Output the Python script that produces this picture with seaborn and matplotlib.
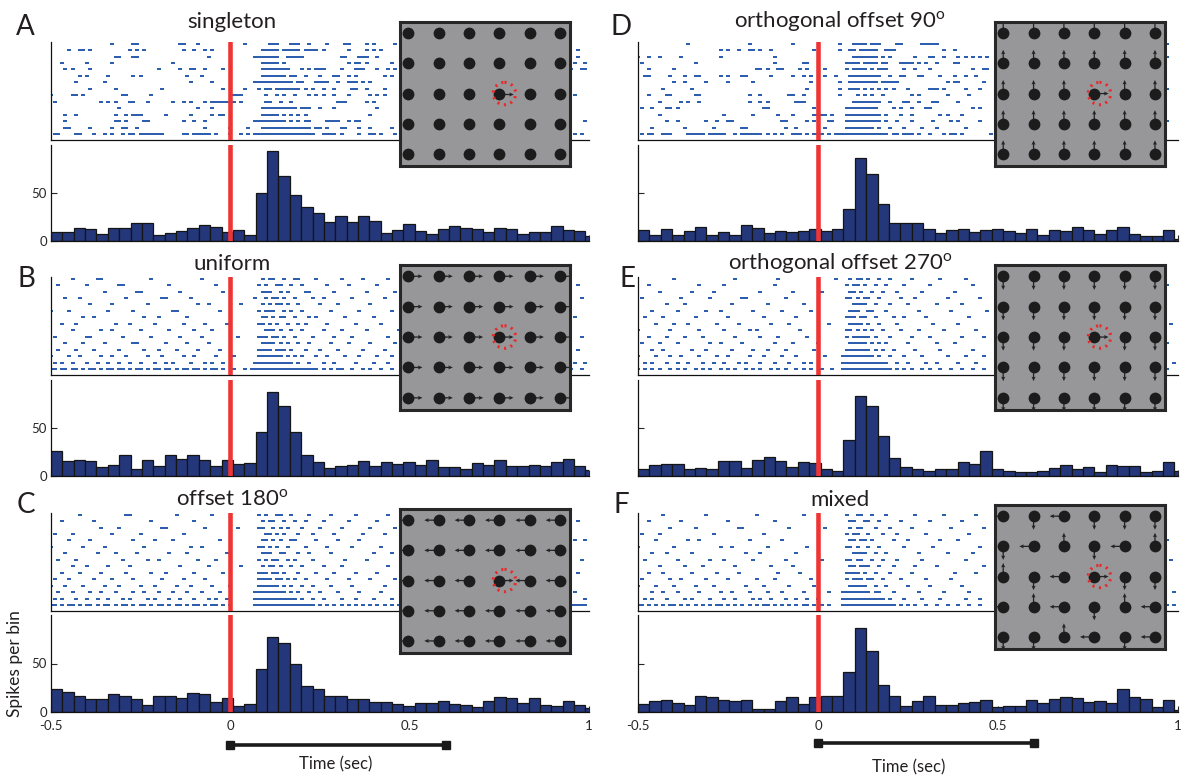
import numpy as np
import pandas as pd
import seaborn as sns
import matplotlib.pyplot as plt
import matplotlib.transforms as mtrans
from matplotlib.patches import Circle

# ---------------- data ----------------
# PSTH bin width (sec), bins start at -0.5
bin_width = 0.0317

hist_A = [9.5, 9.5, 14, 12, 7.5, 14, 13.5, 19, 19, 6.5, 8.5, 10.5, 14, 17, 15, 9.5, 11.5, 6.5, 50, 94,
          68, 48, 35, 29, 20, 26, 20, 26, 21, 8.5, 11.5, 18, 10.5, 7.5, 12, 16, 14, 13, 9.5, 14,
          12, 7.5, 9.5, 9.5, 16, 11.5, 10.5, 5]
hist_B = [26, 15.5, 16.5, 15.5, 9.5, 11.5, 21.5, 7.5, 16.5, 10.5, 21.5, 17.5, 21.5, 16.5, 10.5, 16.5, 12.5, 13.5, 46, 87,
          73, 46, 21.5, 14.5, 8.5, 10.5, 11.5, 15.5, 10.5, 14.5, 12.5, 14.5, 11.5, 16.5, 9.5, 9.5, 7.5, 13.5, 11.5, 16.5,
          10.5, 10.5, 11.5, 10.5, 14.5, 17.5, 10.5, 6]
hist_C = [24, 21, 16, 13, 13, 19, 17, 13, 7, 17, 17, 14, 20, 19, 10, 14, 6, 8, 44, 77.5,
          71, 50, 27, 24, 17, 17, 13, 13, 10, 10, 8, 6, 9, 9, 11.5, 8, 7, 5, 11.5, 15,
          14, 9, 14, 7.5, 6, 11.5, 7.5, 4]
hist_D = [11.3, 6.2, 12.3, 6.2, 10.6, 14.4, 6.2, 9.2, 6.2, 17.1, 13.4, 8.2, 10.6, 9.2, 10.6, 12.3, 10.6, 12.3, 33.6, 86,
          69.5, 38.7, 18.5, 18.5, 18.5, 13, 8.2, 11.3, 12.3, 9.2, 11.3, 12.3, 10.6, 8.2, 13, 6.2, 11.3, 10.3, 14.4, 11.3,
          7.2, 11.3, 14.4, 7.2, 5.1, 5.1, 11.3, 2.4]
hist_E = [7.8, 11.1, 12.2, 12.2, 6.8, 8.8, 6.8, 15.9, 15.9, 8.8, 16.9, 20.3, 15.9, 9.8, 14.9, 13.9, 7.8, 4.7, 37.2, 83,
          73, 41.2, 18.9, 9.8, 6.8, 5.7, 6.8, 7.8, 14.9, 12.8, 25.7, 6.8, 5.7, 3.7, 3.7, 5.7, 8.8, 11.8, 6.8, 9.8,
          3.7, 11.8, 10.8, 10.8, 3.7, 4.7, 14.9, 4.7]
hist_F = [8, 11, 12, 9, 7, 17, 15, 12, 11, 12, 3, 3, 11, 15, 8, 15, 16, 16, 41, 87,
          63, 28, 17, 6, 11, 16, 7, 7, 9, 10, 12, 5, 6, 6, 12, 9, 13, 15, 14, 10,
          11, 9, 24, 15, 13, 5, 12, 2]

# raster spike times in units of 10 ms, one list per trial (top trial first)
spikes_A = [
    [-33, -27, -26, -14, -13, -9, 4, 11, 12, 13, 17, 18, 19, 22, 27, 32, 33, 38, 40, 46],
    [-45, -42, -41, -39, -28, -26, -24, -13, -10, -7, -5, 9, 10, 11, 12, 13, 15, 16, 17, 18, 19, 21, 22, 23, 24, 26, 33, 38, 40, 42, 97],
    [-32, -31, -27, -26, -6, 7, 8, 9, 10, 11, 12, 13, 16, 17, 18, 19, 20, 31, 32, 36, 37, 38, 41, 97],
    [-47, -40, -33, -16, 9, 10, 11, 12, 13, 15, 33, 35, 36, 38, 45, 96, 99],
    [-46, -44, -39, -20, -14, -11, -10, -7, -2, 9, 10, 11, 12, 13, 14, 15, 16, 20, 22, 24, 25, 26, 31, 35, 36, 37, 41, 44, 46, 95, 98, 99],
    [-42, -40, -34, -27, -25, -12, -8, 9, 10, 11, 12, 13, 14, 15, 17, 18, 21, 25, 29, 30, 33, 35, 43, 45],
    [-43, -35, -11, -5, 7, 8, 9, 10, 11, 12, 13, 14, 15, 16, 17, 19, 20, 24, 25, 26, 27, 30, 33, 34, 35, 37, 39],
    [-39, -32, -19, -2, 4, 8, 10, 11, 13, 14, 15, 16, 17, 18, 19, 21, 23, 26, 29, 34, 35, 38, 43],
    [-50, -44, -43, -41, -30, -29, -22, 1, 2, 3, 10, 13, 15, 18, 22, 24, 26, 29, 33, 39, 41, 43, 96],
    [-49, -36, -34, -32, -28, -27, -23, -16, -13, -11, -7, -5, -4, -3, -2, -1, 1, 3, 10, 11, 14, 17, 30, 31, 32, 38, 40],
    [-31, -9, -5, 9, 10, 11, 12, 13, 14, 15, 16, 17, 18, 20, 21, 22, 25, 29, 41],
    [-46, -43, -32, -29, -27, -26, -25, -18, -11, -5, -3, -2, 9, 10, 11, 12, 13, 15, 17, 19, 21, 39],
    [-46, -32, -31, -29, -24, -23, -13, -10, -7, 7, 8, 9, 10, 11, 12, 13, 14, 15, 17, 19, 21, 22, 27, 28, 29, 30, 33, 35, 36, 99],
    [-46, -45, -39, -33, -30, -29, -26, -7, 0, 5, 9, 10, 11, 12, 13, 14, 15, 16, 17, 18, 19, 20, 21, 22, 24, 25, 27, 31, 32, 36, 39, 45],
    [-49, -48, -43, -42, -38, -35, -33, -30, -28, -27, -25, -24, -23, -22, -21, -20, -19, -13, -12, -10, -9, -8, -7, -6, -4, 0, 3, 5,
     7, 8, 9, 10, 11, 12, 13, 14, 15, 16, 17, 18, 19, 20, 21, 22, 23, 26, 27, 28, 29, 31, 36, 39, 40, 42, 46, 96, 98],
]
spikes_B = [
    [-44, -37, -36, -22, -8, 9, 11, 12, 15, 18, 19, 24, 31, 37, 44],
    [-48, -40, -31, -30, -17, -4, 8, 10, 13, 14, 17, 20, 27, 33, 41, 97],
    [-35, -26, -25, -14, -2, 9, 10, 11, 14, 16, 21, 22, 29, 38, 46],
    [-46, -42, -29, -19, -18, -11, 7, 10, 12, 13, 15, 18, 23, 26, 34, 43, 98],
    [-39, -33, -23, -9, -6, 3, 9, 11, 13, 14, 16, 19, 25, 30, 39],
    [-50, -45, -34, -27, -16, -15, -3, 8, 10, 11, 12, 15, 17, 20, 28, 36, 45],
    [-41, -38, -24, -20, -12, 9, 10, 12, 14, 15, 18, 22, 24, 32, 40, 96],
    [-47, -43, -32, -28, -21, -13, -7, -1, 8, 9, 11, 13, 16, 19, 21, 27, 35, 42],
    [-44, -36, -33, -25, -17, -10, -5, 10, 11, 12, 14, 17, 20, 26, 31, 38, 47],
    [-49, -40, -39, -30, -22, -14, -8, 2, 8, 9, 10, 12, 13, 15, 18, 23, 29, 34, 44, 98],
    [-46, -41, -35, -27, -26, -18, -12, -6, 9, 10, 11, 12, 14, 16, 19, 22, 28, 33, 39, 46],
    [-48, -43, -38, -31, -24, -20, -15, -9, -3, 8, 9, 10, 11, 13, 14, 15, 17, 21, 25, 30, 37, 43, 97],
    [-50, -45, -42, -36, -33, -29, -23, -19, -13, -10, -4, 1, 8, 9, 10, 11, 12, 13, 14, 16, 18, 20, 24, 27, 32, 36, 41, 45],
    [-49, -47, -44, -40, -37, -34, -31, -28, -25, -21, -18, -16, -11, -7, -5, -2, 7, 8, 9, 10, 11, 12, 13, 14, 15, 16, 17, 19,
     22, 26, 29, 35, 40, 44, 96, 99],
    [-50, -49, -47, -46, -44, -43, -41, -39, -38, -36, -34, -33, -31, -30, -28, -26, -25, -23, -21, -20, -18, -17, -15, -13,
     -12, -10, -9, -7, -5, -4, -2, 1, 4, 6, 7, 8, 9, 10, 11, 12, 13, 14, 15, 16, 17, 18, 19, 20, 21, 22, 23, 24, 26, 28, 30,
     31, 34, 37, 39, 42, 45, 95, 98],
]
spikes_C = [
    [-42, -29, -28, -15, -5, 8, 10, 13, 14, 17, 22, 28, 35, 44],
    [-47, -38, -22, -10, 9, 11, 12, 15, 18, 21, 26, 33, 41, 97],
    [-36, -31, -19, -18, -7, 2, 8, 9, 12, 14, 16, 20, 25, 31, 39, 46],
    [-49, -44, -33, -25, -13, 10, 11, 13, 15, 19, 23, 29, 37, 43],
    [-45, -39, -27, -21, -16, -3, 9, 10, 12, 14, 17, 18, 24, 30, 36, 96, 99],
    [-50, -41, -35, -24, -11, -8, 8, 9, 11, 13, 16, 21, 27, 34, 42],
    [-46, -37, -32, -26, -17, -12, -1, 9, 10, 11, 14, 15, 19, 22, 28, 40, 45],
    [-48, -43, -30, -23, -20, -9, -4, 8, 10, 12, 13, 16, 18, 23, 32, 38, 98],
    [-44, -40, -34, -28, -14, -6, 3, 9, 11, 12, 14, 17, 20, 26, 31, 44],
    [-47, -42, -36, -29, -22, -18, -10, -2, 8, 9, 10, 12, 13, 15, 19, 24, 29, 35, 41, 97],
    [-49, -45, -38, -33, -27, -19, -13, -7, 8, 9, 10, 11, 13, 14, 16, 18, 21, 27, 33, 39, 46],
    [-50, -46, -41, -35, -31, -25, -21, -15, -11, -5, 0, 8, 9, 10, 11, 12, 13, 15, 17, 20, 23, 28, 34, 43],
    [-48, -44, -39, -36, -32, -27, -24, -20, -16, -12, -8, -3, 7, 8, 9, 10, 11, 12, 13, 14, 15, 17, 19, 22, 25, 30, 36, 42, 96],
    [-49, -47, -43, -40, -37, -34, -30, -28, -23, -21, -17, -14, -10, -6, -4, -1, 7, 8, 9, 10, 11, 12, 13, 14, 15, 16, 17, 18,
     20, 23, 26, 31, 35, 40, 45, 99],
    [-50, -49, -47, -45, -44, -42, -40, -39, -37, -35, -34, -32, -30, -29, -27, -25, -24, -22, -20, -19, -17, -15, -14, -12,
     -10, -9, -7, -5, -4, -2, 0, 7, 8, 9, 10, 11, 12, 13, 14, 15, 16, 17, 18, 19, 20, 21, 22, 23, 25, 27, 29, 31, 33, 35,
     37, 39, 41, 43, 45, 47, 95, 96, 97, 98, 99],
]
spikes_D = [
    [-36, -19, -7, 6, 10, 11, 12, 13, 15, 16, 17, 22, 23, 29, 30, 31, 32, 33, 97],
    [-27, -25, -22, -19, -18, -16, -13, -1, 6, 9, 10, 12, 13, 14, 15, 16, 19, 20, 21, 35, 38],
    [-50, -47, -44, -38, -27, -12, 10, 11, 12, 13, 14, 15, 16, 18, 20, 27, 31, 32, 35, 39, 41, 43, 45, 47, 97],
    [-49, -34, -12, -4, -3, 8, 9, 10, 11, 13, 14, 15, 16, 18, 19, 23, 24, 25, 26, 28, 30, 33, 38, 39],
    [-47, -40, -17, -16, -14, -11, -10, -5, -3, 2, 8, 10, 11, 12, 13, 15, 17, 18, 19, 24, 27, 31, 43, 46, 47],
    [-48, -47, -41, -37, -34, -33, -27, -25, -21, -20, -13, -7, -4, -2, 2, 5, 9, 10, 11, 12, 13, 14, 15, 16, 17, 20, 23, 24,
     28, 29, 34, 38, 41, 44],
    [-40, -37, -31, -25, -18, -2, 6, 9, 10, 11, 12, 13, 14, 15, 16, 18, 19, 20, 21, 22, 36, 38, 39, 46],
    [-43, -35, -3, 6, 9, 10, 11, 13, 15, 17, 19, 21, 25, 31, 32, 33, 35, 41, 45, 97],
    [-47, -42, -41, -34, -33, -19, -16, -8, -7, -4, 6, 11, 13, 15, 18, 26, 28, 36, 42],
    [-44, -38, -36, -33, -19, -16, -14, -6, -5, -4, 10, 11, 12, 13, 14, 15, 16, 17, 20, 24, 25, 28, 32, 33, 39],
    [-49, -46, -42, -41, -39, -15, -14, -1, 8, 9, 10, 11, 12, 13, 14, 15, 16, 21, 23, 26, 30, 31, 43, 45],
    [-44, -26, -18, -11, -7, -1, 0, 1, 2, 4, 8, 9, 10, 11, 12, 13, 14, 15, 16, 17, 19, 23, 26, 34, 36, 40],
    [-42, -39, -31, -28, -25, -24, -10, -9, -3, -1, 3, 4, 8, 9, 10, 11, 12, 13, 14, 15, 16, 17, 19, 22, 26, 32, 37, 39, 45, 97],
    [-46, -37, -29, -21, -20, -9, -6, 2, 8, 9, 10, 11, 12, 13, 14, 15, 17, 20, 24, 29, 33, 41],
    [-49, -47, -46, -43, -42, -41, -36, -35, -34, -33, -32, -30, -29, -28, -27, -26, -23, -21, -20, -19, -18, -17, -16, -14,
     -12, -10, -7, -6, -5, -3, -1, 0, 1, 3, 5, 6, 7, 8, 9, 10, 11, 12, 13, 14, 15, 16, 17, 18, 19, 21, 22, 24, 25, 26, 28,
     31, 35, 37, 38, 40, 48],
]
spikes_E = [
    [-40, -23, -11, 5, 9, 11, 12, 14, 17, 20, 26, 34, 41],
    [-47, -33, -26, -12, 8, 10, 11, 13, 16, 19, 24, 31, 43, 97],
    [-44, -35, -29, -16, -7, 1, 9, 10, 12, 15, 18, 22, 29, 38],
    [-49, -38, -30, -21, -20, -9, 8, 9, 11, 13, 14, 17, 23, 27, 36, 45],
    [-42, -37, -24, -14, -4, 10, 11, 12, 13, 16, 20, 25, 33, 40, 96],
    [-46, -39, -31, -27, -18, -10, -2, 9, 10, 11, 14, 15, 19, 28, 37, 47],
    [-48, -43, -34, -25, -15, -6, 8, 9, 10, 12, 13, 16, 21, 24, 30, 42],
    [-45, -40, -36, -28, -22, -13, -8, 3, 9, 10, 11, 12, 14, 17, 22, 32, 39, 98],
    [-50, -41, -33, -26, -19, -17, -5, 8, 9, 11, 13, 15, 18, 23, 28, 35, 44],
    [-47, -42, -37, -32, -23, -16, -11, -3, 8, 10, 11, 12, 13, 14, 16, 20, 26, 31, 40, 46],
    [-49, -44, -39, -30, -27, -21, -12, -7, 0, 9, 10, 11, 12, 13, 15, 17, 19, 25, 33, 38, 97],
    [-46, -43, -35, -31, -24, -18, -14, -9, -1, 8, 9, 10, 11, 12, 13, 14, 16, 18, 21, 27, 34, 43],
    [-50, -45, -41, -38, -33, -28, -25, -19, -15, -10, -6, 2, 7, 8, 9, 10, 11, 12, 13, 14, 15, 17, 20, 24, 29, 36, 41, 46],
    [-48, -46, -42, -39, -36, -32, -29, -26, -22, -20, -16, -12, -8, -4, -2, 7, 8, 9, 10, 11, 12, 13, 14, 15, 16, 17, 18, 19,
     22, 25, 30, 33, 39, 44, 95, 99],
    [-50, -48, -46, -44, -41, -39, -37, -34, -32, -30, -27, -25, -23, -20, -18, -16, -13, -11, -9, -6, -4, -2, 1, 4, 7, 8,
     9, 10, 11, 12, 13, 14, 15, 16, 17, 18, 19, 20, 22, 24, 26, 29, 31, 34, 37, 40, 43, 46, 95, 97],
]
spikes_F = [
    [-43, -31, -17, -4, 8, 11, 12, 15, 19, 27, 35, 44],
    [-47, -38, -25, -12, 9, 10, 13, 14, 17, 23, 31, 40, 96],
    [-41, -34, -22, -21, -8, 2, 9, 11, 12, 16, 20, 26, 37, 46],
    [-49, -44, -29, -15, 8, 10, 11, 14, 18, 22, 30, 42],
    [-45, -36, -33, -19, -10, 9, 10, 12, 13, 15, 21, 25, 34, 39, 97],
    [-50, -40, -27, -24, -14, -3, 8, 9, 11, 14, 17, 24, 32, 45],
    [-46, -42, -35, -20, -16, -6, 10, 11, 12, 13, 16, 19, 28, 36, 43],
    [-48, -39, -30, -26, -18, -9, 1, 8, 9, 11, 12, 15, 18, 22, 29, 41, 98],
    [-44, -37, -32, -23, -13, -7, 9, 10, 12, 13, 14, 17, 21, 27, 33, 46],
    [-47, -43, -35, -28, -22, -11, -5, 8, 9, 10, 11, 13, 16, 20, 26, 38, 44],
    [-49, -41, -38, -31, -25, -17, -12, -2, 8, 10, 11, 12, 14, 15, 18, 23, 30, 37, 96],
    [-50, -45, -40, -34, -29, -20, -15, -8, -1, 9, 10, 11, 12, 13, 16, 19, 25, 31, 40],
    [-46, -43, -39, -33, -27, -24, -19, -14, -10, -4, 3, 7, 8, 9, 10, 11, 12, 13, 14, 16, 17, 21, 28, 35, 42, 99],
    [-48, -46, -42, -37, -35, -30, -26, -23, -18, -16, -13, -9, -6, -3, 0, 7, 8, 9, 10, 11, 12, 13, 14, 15, 16, 17, 18, 20,
     24, 29, 34, 41, 45],
    [-50, -49, -47, -45, -43, -41, -40, -38, -36, -34, -32, -30, -28, -27, -25, -23, -21, -19, -17, -15, -14, -12, -10, -8,
     -6, -4, -3, -1, 1, 3, 7, 8, 9, 10, 11, 12, 13, 14, 15, 16, 17, 18, 19, 20, 21, 23, 25, 27, 30, 33, 36, 39, 42, 45, 97, 99],
]

panel_titles = ['singleton', 'uniform', 'offset 180$^{\\mathregular{o}}$',
                'orthogonal offset 90$^{\\mathregular{o}}$', 'orthogonal offset 270$^{\\mathregular{o}}$', 'mixed']
panel_letters = ['A', 'B', 'C', 'D', 'E', 'F']
# flanker arrow direction per grid position (5 rows x 6 cols), '.' = no arrow; target (row 2, col 3) always points right
flank_A = ['......', '......', '......', '......', '......']
flank_B = ['RRRRRR'] * 5
flank_C = ['LLLLLL'] * 5
flank_D = ['UUUUUU'] * 5
flank_E = ['DDDDDD'] * 5
flank_F = ['LDLDDD', 'DLUDLU', 'UDLRDD', 'LULDUL', 'DDULDL']

hists = [hist_A, hist_B, hist_C, hist_D, hist_E, hist_F]
rasters = [spikes_A, spikes_B, spikes_C, spikes_D, spikes_E, spikes_F]
flanks = [flank_A, flank_B, flank_C, flank_D, flank_E, flank_F]

# ---------------- style ----------------
sns.set_theme(style='white')
plt.rcParams['font.family'] = ['Lato', 'DejaVu Sans']
plt.rcParams['axes.edgecolor'] = '#111111'
plt.rcParams['axes.linewidth'] = 0.9
plt.rcParams['mathtext.fontset'] = 'custom'
plt.rcParams['mathtext.rm'] = 'Lato'

W, H = 1184, 784
fig = plt.figure(figsize=(W / 100, H / 100), dpi=100)


def add_ax(x0, y0, x1, y1):
    # pixel box (top-left origin) -> figure axes
    return fig.add_axes([x0 / W, 1 - y1 / H, (x1 - x0) / W, (y1 - y0) / H])


col_x = [(51, 589), (638, 1178)]
row_y = [(42, 140, 145, 241), (277, 375, 380, 476), (513, 611, 615, 712)]
inset_box = [(400, 22, 570, 166), (400, 265, 570, 410), (400, 509, 570, 653),
             (995, 22, 1165, 166), (995, 265, 1165, 410), (995, 505, 1165, 649)]
# baseline positions of titles and panel letters (pixels)
title_pos = [(232, 28), (232, 270), (232, 506), (840, 28), (840, 270), (840, 506)]
letter_pos = [(25, 35), (26, 287), (26, 513), (621, 35), (627, 287), (621, 513)]

spike_marker = [(-1, -0.65), (1, -0.65), (1, 0.65), (-1, 0.65)]
red = '#ef3434'
blue = '#2d5fae'
navy = '#24377a'
edges = [-0.5 + bin_width * k for k in range(49)]
centers = [e + bin_width / 2 for e in edges[:-1]]

arrow_vec = {'R': (0.47, 0), 'L': (-0.47, 0), 'U': (0, -0.45), 'D': (0, 0.45)}

for i in range(6):
    col, row = i // 3, i % 3
    x0, x1 = col_x[col]
    ry0, ry1, hy0, hy1 = row_y[row]

    # raster
    axr = add_ax(x0, ry0, x1, ry1)
    trials = rasters[i]
    df = pd.DataFrame([(v / 100, 15 - k) for k, tr in enumerate(trials) for v in tr], columns=['time', 'trial'])
    sns.scatterplot(data=df, x='time', y='trial', marker=spike_marker, s=5, color=blue,
                    linewidth=0, ax=axr, legend=False)
    axr.axvline(0, color=red, lw=3.3, zorder=5)
    axr.set_xlim(-0.5, 1)
    axr.set_ylim(0.1, 15.25)
    axr.set_xticks([])
    axr.set_yticks([])
    axr.set_xlabel('')
    axr.set_ylabel('')
    axr.spines['top'].set_visible(False)
    axr.spines['right'].set_visible(False)
    axr.patch.set_alpha(0)

    # PSTH
    axh = add_ax(x0, hy0, x1, hy1)
    hdf = pd.DataFrame({'time': centers, 'count': hists[i]})
    sns.histplot(data=hdf, x='time', weights='count', bins=edges, color=navy, edgecolor='#151515',
                 linewidth=0.9, alpha=1, ax=axh)
    axh.axvline(0, color=red, lw=3.3, zorder=5)
    axh.set_xlim(-0.5, 1)
    axh.set_ylim(0, 100)
    axh.set_xticks([-0.5, 0, 0.5, 1])
    axh.set_yticks([0, 50])
    axh.tick_params(direction='in', length=4, width=0.8, labelsize=9.5, pad=3,
                    bottom=True, left=True)
    axh.tick_params(axis='x', pad=6)
    axh.set_ylabel('')
    axh.set_xlabel('')
    axh.spines['top'].set_visible(False)
    axh.spines['right'].set_visible(False)
    if col == 0:
        axh.set_yticklabels(['0', '50'])
    else:
        axh.set_yticklabels([])
    if row == 2:
        axh.set_xticklabels(['-0.5', '0', '0.5', '1'])
        trans = mtrans.blended_transform_factory(axh.transData, axh.transAxes)
        ybar = -0.34 if col == 0 else -0.32
        axh.plot([0, 0.6], [ybar, ybar], color='#1a1a1a', lw=2.6, marker='s', ms=6,
                 transform=trans, clip_on=False)
    else:
        axh.set_xticklabels([])
    axh.patch.set_alpha(0)

    # stimulus inset
    bx0, by0, bx1, by1 = inset_box[i]
    axi = add_ax(bx0, by0, bx1, by1)
    axi.set_facecolor('#97979a')
    xs, ys, us, vs = [], [], [], []
    for r in range(5):
        for c in range(6):
            d = 'R' if (r == 2 and c == 3) else flanks[i][r][c]
            if d in arrow_vec:
                xs.append(c)
                ys.append(r)
                us.append(arrow_vec[d][0])
                vs.append(arrow_vec[d][1])
    if xs:
        axi.quiver(xs, ys, us, vs, angles='xy', scale_units='xy', scale=1, color='#232323',
                   width=0.0075, headwidth=3.2, headlength=3.5, headaxislength=3.1, zorder=2)
    gx, gy = np.meshgrid(np.arange(6), np.arange(5))
    sns.scatterplot(x=gx.ravel(), y=gy.ravel(), s=72, color='#1c1c1c', linewidth=0,
                    ax=axi, zorder=3, legend=False)
    axi.add_patch(Circle((3.17, 2), 0.37, fill=False, ec='#e82a2a', lw=2.2,
                         ls=(0, (0.7, 1.5)), zorder=4))
    axi.set_xlim(-0.27, 5.33)
    axi.set_ylim(4.4, -0.37)
    axi.set_xticks([])
    axi.set_yticks([])
    for s in axi.spines.values():
        s.set_visible(True)
        s.set_linewidth(2.2)
        s.set_color('#272727')

    # labels
    tx, ty = title_pos[i]
    fig.text(tx / W, 1 - ty / H, panel_titles[i], ha='center', va='baseline', fontsize=16, color='#231f20')
    lx, ly = letter_pos[i]
    fig.text(lx / W, 1 - ly / H, panel_letters[i], ha='center', va='baseline', fontsize=20, color='#231f20')

fig.text(15 / W, 1 - 664 / H, 'Spikes per bin', rotation=90, ha='center', va='center', fontsize=12.5, color='#231f20')
fig.text(336 / W, 1 - 764 / H, 'Time (sec)', ha='center', va='center', fontsize=12, color='#231f20')
fig.text(909 / W, 1 - 767 / H, 'Time (sec)', ha='center', va='center', fontsize=12, color='#231f20')

fig.savefig('out.png', dpi=100)
